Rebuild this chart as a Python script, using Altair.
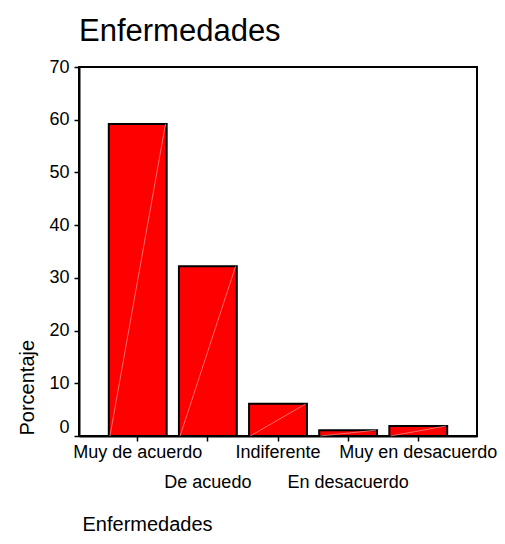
import altair as alt
import pandas as pd

categories = ["Muy de acuerdo", "De acuedo", "Indiferente", "En desacuerdo", "Muy en desacuerdo"]
values = [59.2, 32.2, 6.1, 1.1, 1.9]
y_ticks = [0, 10, 20, 30, 40, 50, 60, 70]
second_row = ["De acuedo", "En desacuerdo"]

df = pd.DataFrame({"cat": categories, "pct": values, "zero": [0] * len(values)})

FONT = "Liberation Sans"

xscale = alt.Scale(domain=categories, paddingInner=0.175, paddingOuter=0.425)
yscale = alt.Scale(domain=[0, 70], nice=False)

second_js = "[" + ",".join("'" + s + "'" for s in second_row) + "]"

x_axis = alt.Axis(
    title="Enfermedades",
    titleFont=FONT, titleFontSize=20, titleFontWeight="normal", titleColor="black",
    titleX=3, titleY=94, titleAlign="left", titleBaseline="alphabetic", titleAnchor="start",
    labelFont=FONT, labelFontSize=18, labelColor="black", labelAngle=0,
    labelOverlap=False, labelLimit=400, labelBaseline="alphabetic",
    labelPadding=16, labelLineHeight=30,
    labelExpr="indexof(" + second_js + ", datum.value) >= 0 ? ['', datum.label] : datum.label",
    tickSize=5, tickColor="black", tickWidth=1.5,
    domainColor="black", domainWidth=2,
)

y_axis = alt.Axis(
    title="Porcentaje", values=y_ticks, grid=False,
    titleFont=FONT, titleFontSize=20, titleFontWeight="normal", titleColor="black",
    titleX=-46, titleY=368, titleAngle=270, titleAlign="left", titleBaseline="alphabetic",
    labelFont=FONT, labelFontSize=18, labelColor="black", labelPadding=5,
    labelOffset={"condition": {"test": "datum.value == 0", "value": -9}, "value": 0},
    tickSize=5, tickColor="black", tickWidth=1.5,
    domainColor="black", domainWidth=2,
)

bars = alt.Chart(df).mark_bar(color="#ff0000", stroke="black", strokeWidth=2).encode(
    x=alt.X("cat:N", scale=xscale, axis=x_axis, sort=categories),
    y=alt.Y("pct:Q", scale=yscale, axis=y_axis),
)

diag = alt.Chart(df).mark_rule(color="#ff9a9a", strokeWidth=0.7).encode(
    x=alt.X("cat:N", scale=xscale, sort=categories, bandPosition=0.02),
    x2=alt.X2("cat", bandPosition=0.98),
    y=alt.Y("zero:Q", scale=yscale),
    y2=alt.Y2("pct"),
)

chart = alt.layer(bars, diag).properties(
    width=398,
    height=369,
    background="white",
    title=alt.TitleParams(
        "Enfermedades", anchor="start", frame="group", font=FONT, fontSize=31,
        fontWeight="normal", color="black", baseline="top", offset=10,
    ),
    autosize=alt.AutoSizeParams(type="none"),
    padding={"left": 71, "top": 59, "right": 20, "bottom": 100},
).configure_view(stroke="black", strokeWidth=2)

chart.save("out.html", embed_options={"renderer": "svg", "actions": False})
